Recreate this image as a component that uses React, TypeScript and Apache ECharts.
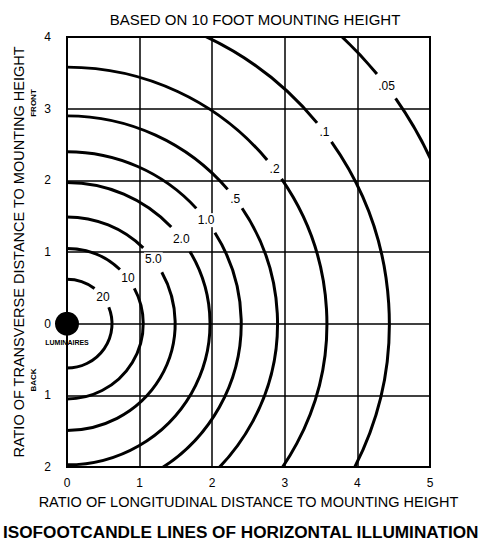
import React, { useEffect, useRef } from "react";
import * as echarts from "echarts";

// Isofootcandle contours (footcandles) and their radius in mounting heights
const contourLabels = ["20", "10", "5.0", "2.0", "1.0", ".5", ".2", ".1", ".05"];
const contourRadii = [0.62, 1.05, 1.49, 1.97, 2.4, 2.9, 3.58, 4.44, 5.51];
// Luminaire position
const luminaire = [[0, 0]];
// Tick labels
const xTickLabels = ["0", "1", "2", "3", "4", "5"];
const yTickLabels = ["2", "1", "0", "1", "2", "3", "4"]; // values -2 .. 4

const FONT = "'Liberation Sans', Arial, sans-serif";
const LABEL_ANGLE = (37 * Math.PI) / 180;

export default function App() {
  const ref = useRef<HTMLDivElement>(null);
  useEffect(() => {
    const chart = echarts.init(ref.current!, null, { renderer: "svg" });
    chart.setOption({
      animation: false,
      backgroundColor: "#fff",
      title: {
        text: "BASED ON 10 FOOT MOUNTING HEIGHT",
        left: 250,
        top: 7,
        textAlign: "center",
        textStyle: { fontFamily: FONT, fontSize: 15, fontWeight: "normal", color: "#000" },
      },
      grid: {
        left: 67,
        top: 37,
        width: 363,
        height: 430,
        show: true,
        borderColor: "#000",
        borderWidth: 2,
        backgroundColor: "transparent",
      },
      xAxis: {
        type: "value",
        min: 0,
        max: 5,
        interval: 1,
        name: "RATIO OF LONGITUDINAL DISTANCE TO MOUNTING HEIGHT",
        nameLocation: "middle",
        nameGap: 27,
        nameTextStyle: { fontFamily: FONT, fontSize: 14.5, color: "#000" },
        axisLine: { show: false },
        axisTick: { show: false },
        axisLabel: {
          margin: 10,
          fontFamily: FONT,
          fontSize: 12,
          color: "#000",
          formatter: (v: number) => xTickLabels[Math.round(v)],
        },
        splitLine: { show: true, lineStyle: { color: "#000", width: 1.5 } },
      },
      yAxis: {
        type: "value",
        min: -2,
        max: 4,
        interval: 1,
        name: "RATIO OF TRANSVERSE DISTANCE TO MOUNTING HEIGHT",
        nameLocation: "middle",
        nameGap: 41,
        nameRotate: 90,
        nameTextStyle: { fontFamily: FONT, fontSize: 14.5, color: "#000" },
        axisLine: { show: false },
        axisTick: { show: false },
        axisLabel: {
          margin: 16,
          fontFamily: FONT,
          fontSize: 12,
          color: "#000",
          formatter: (v: number) => yTickLabels[Math.round(v) + 2],
        },
        splitLine: { show: true, lineStyle: { color: "#000", width: 1.5 } },
      },
      graphic: [
        {
          type: "text",
          x: 33,
          y: 103,
          rotation: Math.PI / 2,
          style: { text: "FRONT", font: `bold 8px ${FONT}`, fill: "#000", align: "center", verticalAlign: "middle" },
        },
        {
          type: "text",
          x: 33,
          y: 380,
          rotation: Math.PI / 2,
          style: { text: "BACK", font: `bold 8px ${FONT}`, fill: "#000", align: "center", verticalAlign: "middle" },
        },
        {
          type: "text",
          left: 3,
          top: 523,
          style: {
            text: "ISOFOOTCANDLE LINES OF HORIZONTAL ILLUMINATION",
            font: `bold 17.2px ${FONT}`,
            fill: "#000",
          },
        },
      ],
      series: [
        {
          type: "custom",
          clip: true,
          data: contourRadii.map((r) => [r, 0]),
          renderItem: (params: any, api: any) => {
            const r = api.value(0);
            const label = contourLabels[params.dataIndex];
            const c = api.coord([0, 0]);
            const rx = api.size([r, 0])[0];
            const ry = api.size([0, r])[1];
            const halfGap = (label.length * 3.5 + 5) / rx;
            const a = LABEL_ANGLE;
            const lineStyle = { stroke: "#000", lineWidth: 3, fill: "none" };
            return {
              type: "group",
              children: [
                {
                  type: "arc",
                  x: c[0],
                  y: c[1],
                  scaleY: ry / rx,
                  shape: { cx: 0, cy: 0, r: rx, startAngle: -(a - halfGap), endAngle: Math.PI / 2, clockwise: true },
                  style: lineStyle,
                },
                {
                  type: "arc",
                  x: c[0],
                  y: c[1],
                  scaleY: ry / rx,
                  shape: { cx: 0, cy: 0, r: rx, startAngle: -Math.PI / 2, endAngle: -(a + halfGap), clockwise: true },
                  style: lineStyle,
                },
                {
                  type: "text",
                  x: c[0] + rx * Math.cos(a),
                  y: c[1] - ry * Math.sin(a),
                  style: {
                    text: label,
                    font: `12px ${FONT}`,
                    fill: "#000",
                    align: "center",
                    verticalAlign: "middle",
                    backgroundColor: "#fff",
                    padding: [1, 1],
                  },
                },
              ],
            };
          },
          z: 3,
        },
        {
          type: "scatter",
          data: luminaire,
          symbol: "circle",
          symbolSize: 24,
          clip: false,
          itemStyle: { color: "#000", opacity: 1 },
          label: {
            show: true,
            position: "bottom",
            distance: 3,
            formatter: "LUMINAIRES",
            fontFamily: FONT,
            fontSize: 7,
            fontWeight: "bold",
            color: "#000",
          },
          z: 5,
        },
      ],
    });
    return () => chart.dispose();
  }, []);
  return (
    <div
      ref={ref}
      style={{ position: "fixed", left: 0, top: 0, width: 490, height: 550, background: "#fff" }}
    />
  );
}
